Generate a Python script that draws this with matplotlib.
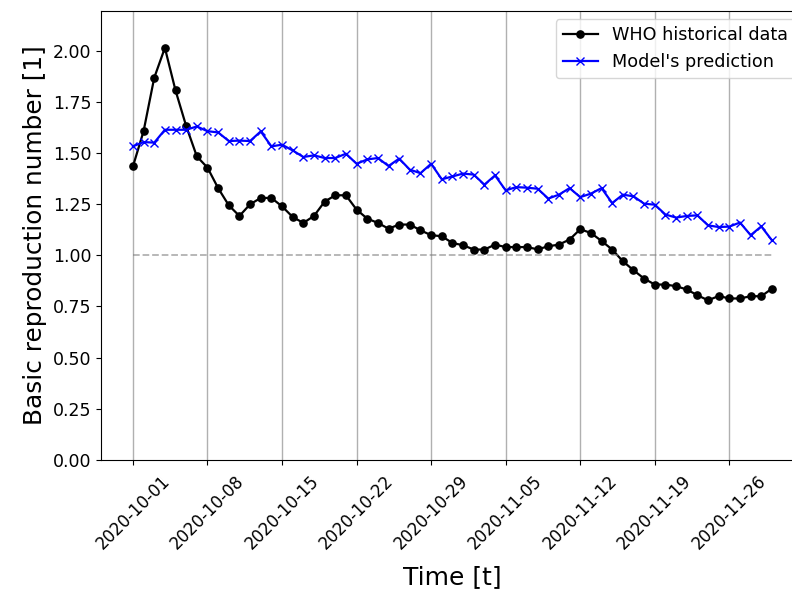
import numpy as np
import pandas as pd
import matplotlib
matplotlib.use("Agg")
import matplotlib.pyplot as plt

dates = pd.date_range("2020-10-01", "2020-11-30", freq="D")

who_data = [1.434, 1.606, 1.867, 2.013, 1.805, 1.631, 1.483, 1.428, 1.328, 1.244,
            1.192, 1.249, 1.280, 1.280, 1.239, 1.187, 1.158, 1.192, 1.262, 1.293,
            1.293, 1.223, 1.179, 1.158, 1.130, 1.150, 1.150, 1.122, 1.098, 1.093,
            1.060, 1.049, 1.028, 1.028, 1.052, 1.040, 1.040, 1.040, 1.029, 1.044,
            1.052, 1.077, 1.127, 1.109, 1.070, 1.028, 0.971, 0.927, 0.886, 0.857,
            0.857, 0.849, 0.833, 0.805, 0.780, 0.801, 0.789, 0.789, 0.800, 0.800,
            0.837]

model_pred = [1.532, 1.553, 1.550, 1.613, 1.613, 1.613, 1.629, 1.606, 1.600, 1.558,
              1.560, 1.558, 1.605, 1.532, 1.540, 1.512, 1.480, 1.488, 1.475, 1.475,
              1.496, 1.447, 1.468, 1.475, 1.436, 1.472, 1.418, 1.401, 1.447, 1.371,
              1.385, 1.399, 1.394, 1.345, 1.390, 1.317, 1.333, 1.330, 1.325, 1.277,
              1.296, 1.328, 1.284, 1.301, 1.328, 1.255, 1.296, 1.288, 1.252, 1.247,
              1.199, 1.184, 1.192, 1.195, 1.146, 1.138, 1.140, 1.160, 1.098, 1.141,
              1.073]

threshold = 1.0
tick_dates = pd.date_range("2020-10-01", "2020-11-26", freq="7D")
tick_labels = [t.strftime("%Y-%m-%d") for t in tick_dates]

fig = plt.figure(figsize=(7.92, 5.89), dpi=100)
ax = fig.add_axes([0.1275, 0.219, 0.8875, 0.763])

ax.plot(dates, who_data, color="black", marker="o", markersize=5.2, linewidth=1.6,
        label="WHO historical data")
ax.plot(dates, model_pred, color="blue", marker="x", markersize=6, linewidth=1.6,
        label="Model's prediction")
ax.hlines(threshold, dates[0], dates[-1], colors="gray", linestyles="dashed",
          alpha=0.6, linewidth=1.3)

ax.set_ylim(0, 2.195)
ax.set_yticks(np.arange(0, 2.01, 0.25))
ax.yaxis.set_major_formatter(matplotlib.ticker.FormatStrFormatter("%.2f"))
ax.set_xticks(tick_dates)
ax.set_xticklabels(tick_labels, rotation=45, ha="center")
ax.tick_params(axis="y", labelsize=12.5)
ax.tick_params(axis="x", labelsize=12, pad=5)
ax.grid(axis="x", color="#b0b0b0", linewidth=1.0)
ax.spines["right"].set_visible(False)
ax.set_xlabel("Time [t]", fontsize=18, labelpad=9)
ax.set_ylabel("Basic reproduction number [1]", fontsize=17.8)
ax.legend(loc="upper right", fontsize=12.7)

fig.savefig("out.png", dpi=100)
